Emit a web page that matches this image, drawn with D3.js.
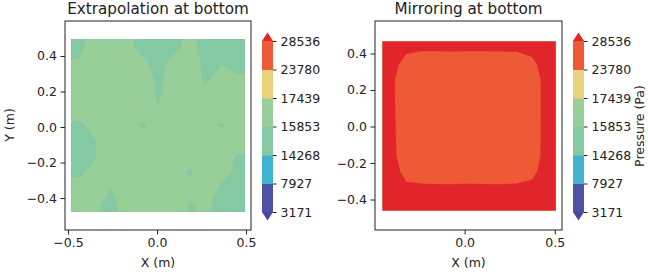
<!DOCTYPE html>
<html>
<head>
<meta charset="utf-8">
<script src="https://cdn.jsdelivr.net/npm/d3@7"></script>
<style>
  body { margin: 0; background: #fff; }
  svg { display: block; font-family: "DejaVu Sans", sans-serif; }
</style>
</head>
<body>
<div id="chart"></div>
<script>
// contour levels shared by both panels and colorbars
const levels = [3171, 7927, 14268, 15853, 17439, 23780, 28536];
const bandColors = ["#4e52a3", "#3fb3cf", "#85c9a3", "#98cf98", "#e8d27b", "#ee5a36"];
const underColor = "#454a9c";
const overColor = "#e2252a";

const xTicks = [-0.5, 0.0, 0.5];
const yTicks = [-0.4, -0.2, 0.0, 0.2, 0.4];

const titles = ["Extrapolation at bottom", "Mirroring at bottom"];

// grid extents (m)
const leftExtentX = [-0.48, 0.494];
const leftExtentY = [-0.479, 0.496];
const rightExtentX = [-0.455, 0.505];
const rightExtentY = [-0.46, 0.466];

// pressure (Pa), rows top (y max) -> bottom
const leftPressure = [
  [15400, 16700, 16800, 16200, 15400, 15300, 15500, 16200, 15400, 15400, 15400],
  [16000, 16800, 16800, 16700, 16100, 15400, 16200, 16600, 15500, 15700, 15500],
  [16700, 16800, 16800, 16800, 16700, 15500, 16600, 16800, 15500, 16500, 16000],
  [16800, 16800, 16800, 16800, 16800, 15600, 16800, 16800, 16300, 16800, 16600],
  [16700, 16800, 16800, 16800, 16800, 15900, 16800, 16800, 16800, 16800, 16800],
  [15500, 16500, 16800, 16800, 15500, 16800, 16800, 16800, 16800, 15600, 16800],
  [15400, 15800, 16800, 16800, 16800, 16800, 16800, 16800, 16800, 16800, 16600],
  [15400, 15800, 16700, 16800, 16800, 16800, 16800, 16800, 16800, 16600, 15700],
  [15600, 16300, 16800, 16800, 16800, 16800, 16800, 15500, 16800, 16400, 15500],
  [16500, 16600, 15800, 16700, 16800, 16800, 16800, 16800, 16600, 15600, 15400],
  [16800, 16100, 15400, 16400, 16800, 16800, 16800, 15700, 16100, 15400, 15300]
];

const rightPressure = [
  [30500, 29000, 28900, 28900, 28950, 28900, 28900, 28950, 29000, 29600, 31000],
  [29700, 27500, 26000, 26000, 26000, 26000, 26000, 26000, 26000, 27500, 30700],
  [29500, 26000, 26000, 26000, 26000, 26000, 26000, 26000, 26000, 26000, 30600],
  [29500, 26000, 26000, 26000, 26000, 26000, 26000, 26000, 26000, 26000, 30500],
  [29600, 26000, 26000, 26000, 26000, 26000, 26000, 26000, 26000, 26000, 30500],
  [29700, 26000, 26000, 26000, 26000, 26000, 26000, 26000, 26000, 26000, 30600],
  [29900, 26000, 26000, 26000, 26000, 26000, 26000, 26000, 26000, 26000, 30600],
  [30100, 26000, 26000, 26000, 26000, 26000, 26000, 26000, 26000, 26000, 30700],
  [30300, 27500, 26000, 26000, 26000, 26000, 26000, 26000, 26000, 27500, 30800],
  [30500, 29100, 29300, 29200, 29200, 29300, 29200, 29200, 29300, 29600, 31000],
  [31500, 30500, 30500, 30500, 30500, 30500, 30500, 30500, 30500, 30800, 31500]
];

const width = 648, height = 279;
const tickFont = 12.5;

const svg = d3.select("#chart").append("svg")
  .attr("width", width)
  .attr("height", height);

const panels = [
  {
    title: titles[0], grid: leftPressure, ex: leftExtentX, ey: leftExtentY,
    x: d3.scaleLinear().domain([-0.517, 0.528]).range([65, 251]),
    y: d3.scaleLinear().domain([-0.58, 0.597]).range([230, 21]),
    cbX: 262, yLabel: true, cbLabel: false
  },
  {
    title: titles[1], grid: rightPressure, ex: rightExtentX, ey: rightExtentY,
    x: d3.scaleLinear().domain([-0.497, 0.54]).range([375, 562]),
    y: d3.scaleLinear().domain([-0.567, 0.578]).range([230, 21]),
    cbX: 573, yLabel: false, cbLabel: true
  }
];

function colorAt(i) {
  return i < bandColors.length ? bandColors[i] : overColor;
}

// repeat the edge values once around the grid so contours don't chamfer corners
function padGrid(grid) {
  const rows = grid.map(r => [r[0], ...r, r[r.length - 1]]);
  return [rows[0], ...rows, rows[rows.length - 1]];
}

panels.forEach((p, k) => {
  const rows = p.grid.length, cols = p.grid[0].length;
  const padded = padGrid(p.grid);
  const values = padded.flat();
  const [x0r, x1r] = p.x.range();
  const [y1r, y0r] = p.y.range();

  // grid coordinate -> data -> pixel (cell i covers [i+1, i+2] in padded coords)
  const gx = d3.scaleLinear().domain([1, cols + 1]).range(p.ex);
  const gy = d3.scaleLinear().domain([1, rows + 1]).range([p.ey[1], p.ey[0]]);
  const path = d3.geoPath(d3.geoTransform({
    point(x, y) { this.stream.point(p.x(gx(x)), p.y(gy(y))); }
  }));

  const contours = d3.contours().size([cols + 2, rows + 2]).thresholds(levels)(values);

  const clipId = "clip" + k;
  svg.append("clipPath").attr("id", clipId)
    .append("rect")
    .attr("x", p.x(p.ex[0])).attr("y", p.y(p.ey[1]))
    .attr("width", p.x(p.ex[1]) - p.x(p.ex[0]))
    .attr("height", p.y(p.ey[0]) - p.y(p.ey[1]));

  const g = svg.append("g").attr("clip-path", `url(#${clipId})`);
  g.selectAll("path.band")
    .data(contours)
    .join("path")
    .attr("class", "band")
    .attr("d", path)
    .attr("fill", (d, i) => colorAt(i))
    .attr("stroke", (d, i) => colorAt(i))
    .attr("stroke-width", 0.3);

  // frame
  svg.append("rect")
    .attr("x", x0r).attr("y", y0r)
    .attr("width", x1r - x0r).attr("height", y1r - y0r)
    .attr("fill", "none").attr("stroke", "#222").attr("stroke-width", 1);

  const dom = p.x.domain();
  const xAxis = svg.append("g")
    .attr("transform", `translate(0,${y1r})`)
    .call(d3.axisBottom(p.x)
      .tickValues(xTicks.filter(t => t >= dom[0] && t <= dom[1]))
      .tickFormat(d3.format(".1f")).tickSize(4.5).tickPadding(3.5));
  const yAxis = svg.append("g")
    .attr("transform", `translate(${x0r},0)`)
    .call(d3.axisLeft(p.y).tickValues(yTicks)
      .tickFormat(d3.format(".1f")).tickSize(4.5).tickPadding(3.5));
  [xAxis, yAxis].forEach(a => {
    a.select(".domain").remove();
    a.selectAll("line").attr("stroke", "#222");
    a.selectAll("text").attr("fill", "#222")
      .style("font-size", tickFont + "px").style("font-family", "DejaVu Sans");
  });

  svg.append("text")
    .attr("x", (x0r + x1r) / 2).attr("y", 13.5)
    .attr("text-anchor", "middle")
    .style("font-size", "15.2px").attr("fill", "#222")
    .text(p.title);

  svg.append("text")
    .attr("x", (x0r + x1r) / 2).attr("y", 267)
    .attr("text-anchor", "middle")
    .style("font-size", tickFont + "px").attr("fill", "#222")
    .text("X (m)");

  if (p.yLabel) {
    svg.append("text")
      .attr("transform", `translate(14,125) rotate(-90)`)
      .attr("text-anchor", "middle")
      .style("font-size", tickFont + "px").attr("fill", "#222")
      .text("Y (m)");
  }

  // colorbar with extend both
  const cb = d3.scalePoint().domain(levels).range([212, 41]);
  const cbW = 11, ext = 8.5;
  const cbG = svg.append("g").attr("transform", `translate(${p.cbX},0)`);
  cbG.selectAll("rect")
    .data(d3.range(levels.length - 1))
    .join("rect")
    .attr("x", 0).attr("width", cbW)
    .attr("y", i => cb(levels[i + 1]))
    .attr("height", i => cb(levels[i]) - cb(levels[i + 1]) + 0.5)
    .attr("fill", i => bandColors[i]);
  const top = cb(levels[levels.length - 1]), bot = cb(levels[0]);
  cbG.append("path")
    .attr("d", `M0,${top}L${cbW / 2},${top - ext}L${cbW},${top}Z`)
    .attr("fill", overColor);
  cbG.append("path")
    .attr("d", `M0,${bot}L${cbW / 2},${bot + ext}L${cbW},${bot}Z`)
    .attr("fill", underColor);
  const cbAxis = cbG.append("g")
    .attr("transform", `translate(${cbW},0)`)
    .call(d3.axisRight(cb).tickSize(3.5).tickPadding(4));
  cbAxis.select(".domain").remove();
  cbAxis.selectAll("line").attr("stroke", "#222");
  cbAxis.selectAll("text").attr("fill", "#222")
    .style("font-size", tickFont + "px").style("font-family", "DejaVu Sans");

  if (p.cbLabel) {
    svg.append("text")
      .attr("transform", `translate(644,126) rotate(-90)`)
      .attr("text-anchor", "middle")
      .style("font-size", tickFont + "px").attr("fill", "#222")
      .text("Pressure (Pa)");
  }
});
</script>
</body>
</html>
